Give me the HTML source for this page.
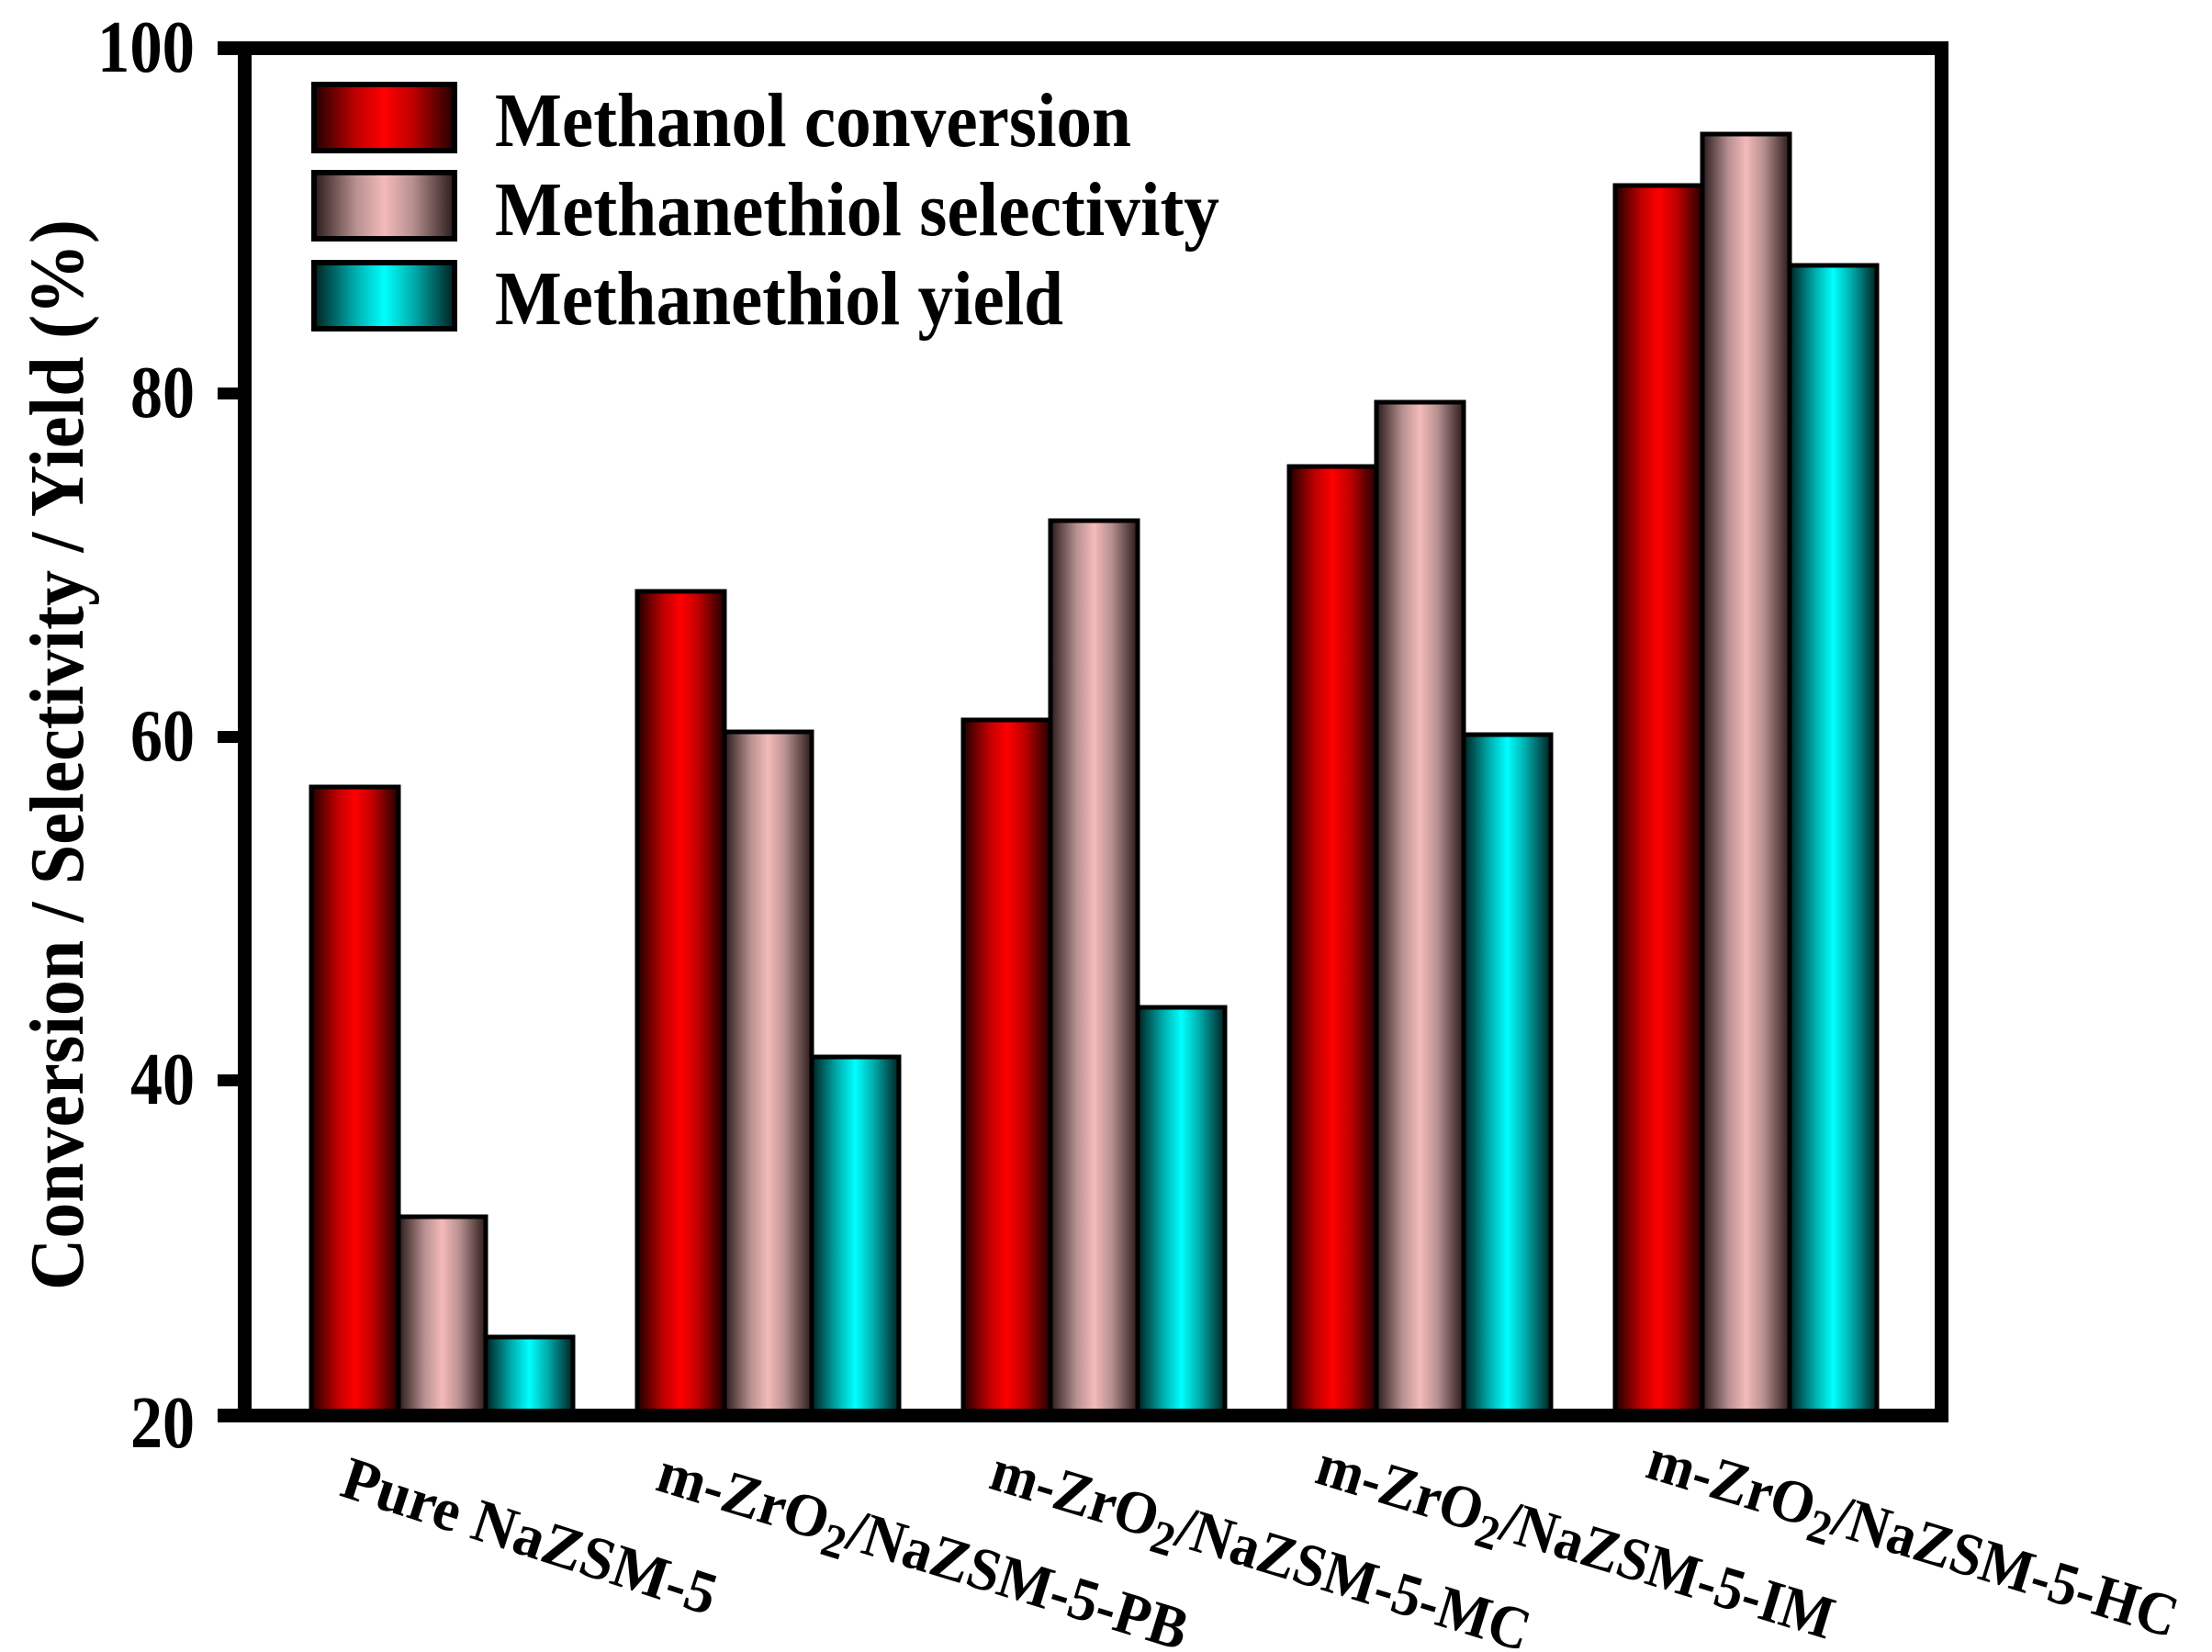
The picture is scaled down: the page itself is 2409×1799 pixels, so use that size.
<!DOCTYPE html>
<html><head><meta charset="utf-8"><style>body{margin:0;background:#fff}svg{display:block}</style></head><body>
<svg width="2409" height="1799" viewBox="0 0 2409 1799" xmlns="http://www.w3.org/2000/svg" font-family="Liberation Serif, serif" font-weight="bold">
<defs>
<linearGradient id="r" x1="0" x2="1" y1="0" y2="0"><stop offset="0" stop-color="#200000"/><stop offset="0.3" stop-color="#c00000"/><stop offset="0.5" stop-color="#ff0000"/><stop offset="0.7" stop-color="#c00000"/><stop offset="1" stop-color="#200000"/></linearGradient>
<linearGradient id="p" x1="0" x2="1" y1="0" y2="0"><stop offset="0" stop-color="#2a1a1a"/><stop offset="0.3" stop-color="#b89090"/><stop offset="0.5" stop-color="#f4baba"/><stop offset="0.7" stop-color="#b89090"/><stop offset="1" stop-color="#2a1a1a"/></linearGradient>
<linearGradient id="c" x1="0" x2="1" y1="0" y2="0"><stop offset="0" stop-color="#002020"/><stop offset="0.3" stop-color="#00b0b0"/><stop offset="0.5" stop-color="#00ffff"/><stop offset="0.7" stop-color="#00b0b0"/><stop offset="1" stop-color="#002020"/></linearGradient>
</defs>
<g stroke="#000" stroke-width="5">
<rect x="339" y="857" width="95" height="684" fill="url(#r)"/>
<rect x="434" y="1325" width="95" height="216" fill="url(#p)"/>
<rect x="529" y="1456" width="95" height="85" fill="url(#c)"/>
<rect x="694" y="644" width="95" height="897" fill="url(#r)"/>
<rect x="789" y="797" width="95" height="744" fill="url(#p)"/>
<rect x="884" y="1151" width="95" height="390" fill="url(#c)"/>
<rect x="1049" y="784" width="95" height="757" fill="url(#r)"/>
<rect x="1144" y="567" width="95" height="974" fill="url(#p)"/>
<rect x="1239" y="1097" width="95" height="444" fill="url(#c)"/>
<rect x="1404" y="508" width="95" height="1033" fill="url(#r)"/>
<rect x="1499" y="438" width="95" height="1103" fill="url(#p)"/>
<rect x="1594" y="800" width="95" height="741" fill="url(#c)"/>
<rect x="1759" y="202" width="95" height="1339" fill="url(#r)"/>
<rect x="1854" y="146" width="95" height="1395" fill="url(#p)"/>
<rect x="1949" y="289" width="95" height="1252" fill="url(#c)"/>
<rect x="342" y="92" width="153" height="72" fill="url(#r)" stroke-width="6"/>
<rect x="342" y="188" width="153" height="72" fill="url(#p)" stroke-width="6"/>
<rect x="342" y="286" width="153" height="72" fill="url(#c)" stroke-width="6"/>
</g>
<rect x="266.5" y="52.5" width="1848" height="1489" fill="none" stroke="#000" stroke-width="15"/>
<g fill="#000">
<rect x="237" y="422" width="30" height="13"/>
<rect x="237" y="796" width="30" height="13"/>
<rect x="237" y="1170" width="30" height="13"/>
<rect x="237" y="45" width="30" height="15"/>
<rect x="237" y="1534" width="30" height="15"/>
</g>
<g font-size="80" text-anchor="end">
<text x="212" y="78" textLength="106" lengthAdjust="spacingAndGlyphs">100</text>
<text x="212" y="454" textLength="70" lengthAdjust="spacingAndGlyphs">80</text>
<text x="212" y="828" textLength="70" lengthAdjust="spacingAndGlyphs">60</text>
<text x="212" y="1202" textLength="70" lengthAdjust="spacingAndGlyphs">40</text>
<text x="212" y="1576" textLength="70" lengthAdjust="spacingAndGlyphs">20</text>
</g>
<g font-size="84">
<text x="539" y="159" textLength="693" lengthAdjust="spacingAndGlyphs">Methanol conversion</text>
<text x="539" y="256" textLength="789" lengthAdjust="spacingAndGlyphs">Methanethiol selectivity</text>
<text x="539" y="353" textLength="619" lengthAdjust="spacingAndGlyphs">Methanethiol yield</text>
</g>
<text transform="translate(90,822) rotate(-90)" text-anchor="middle" font-size="84" textLength="1166" lengthAdjust="spacingAndGlyphs">Conversion / Selectivity / Yield (%)</text>
<g font-size="66">
<text transform="translate(368,1628) rotate(18)" textLength="425" lengthAdjust="spacingAndGlyphs">Pure NaZSM-5</text>
<text transform="translate(712,1622) rotate(17)" textLength="600" lengthAdjust="spacingAndGlyphs">m-ZrO<tspan dy="14" font-size="52">2</tspan><tspan dy="-14">/NaZSM-5-PB</tspan></text>
<text transform="translate(1075,1620) rotate(17)" textLength="610" lengthAdjust="spacingAndGlyphs">m-ZrO<tspan dy="14" font-size="52">2</tspan><tspan dy="-14">/NaZSM-5-MC</tspan></text>
<text transform="translate(1430,1614) rotate(17)" textLength="585" lengthAdjust="spacingAndGlyphs">m-ZrO<tspan dy="14" font-size="52">2</tspan><tspan dy="-14">/NaZSM-5-IM</tspan></text>
<text transform="translate(1790,1608) rotate(17)" textLength="600" lengthAdjust="spacingAndGlyphs">m-ZrO<tspan dy="14" font-size="52">2</tspan><tspan dy="-14">/NaZSM-5-HC</tspan></text>
</g>
</svg>
</body></html>
